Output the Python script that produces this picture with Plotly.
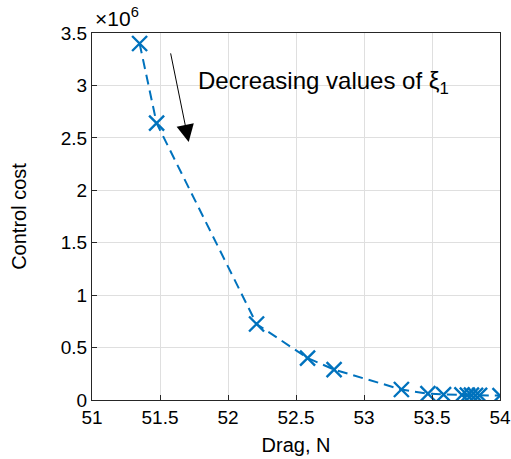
import plotly.graph_objects as go

drag = [51.35, 51.475, 52.21, 52.585, 52.78, 53.275, 53.47, 53.585, 53.72, 53.76, 53.79, 53.82, 53.85, 54.0]
cost = [3.40, 2.64, 0.725, 0.40, 0.29, 0.10, 0.06, 0.052, 0.048, 0.047, 0.046, 0.045, 0.045, 0.042]  # x 1e6
x_ticks = [51, 51.5, 52, 52.5, 53, 53.5, 54]
y_ticks = [0, 0.5, 1, 1.5, 2, 2.5, 3, 3.5]

blue = "#0072BD"
font = "Liberation Sans, Arial, Helvetica, sans-serif"

fig = go.Figure()
fig.add_trace(go.Scatter(
    x=drag, y=cost, mode="lines+markers",
    line=dict(color=blue, width=2, dash="10px,6px"),
    marker=dict(symbol="x-thin", size=15, line=dict(color=blue, width=2.4)),
    showlegend=False,
))

fig.add_annotation(
    x=51.711, y=2.46, ax=51.576, ay=3.32, xref="x", yref="y", axref="x", ayref="y",
    text="", showarrow=True, arrowhead=2, arrowsize=3.5, arrowwidth=1, arrowcolor="black",
)
fig.add_annotation(
    x=51.765, y=3.03, xref="x", yref="y", xanchor="left", yanchor="middle",
    text="Decreasing values of ξ<sub>1</sub>", showarrow=False,
    font=dict(family=font, size=24, color="black"),
)
fig.add_annotation(
    x=0, y=1, xref="paper", yref="paper", xanchor="left", yanchor="bottom", xshift=1, yshift=1,
    text="×10<sup>6</sup>", showarrow=False, font=dict(family=font, size=21, color="black"),
)

axis_common = dict(
    showline=True, linecolor="#262626", linewidth=1, mirror=True,
    ticks="inside", ticklen=5, tickcolor="#262626",
    showgrid=True, gridcolor="#DFDFDF", gridwidth=1, zeroline=False,
    tickfont=dict(family=font, size=19, color="black"), automargin=False,
)

fig.update_layout(
    width=511, height=459,
    margin=dict(l=92, r=11, t=33, b=59),
    plot_bgcolor="white", paper_bgcolor="white",
    font=dict(family=font, size=19, color="black"),
    xaxis=dict(range=[51, 54], tickvals=x_ticks,
               ticktext=[f"{v:g}" for v in x_ticks],
               title=dict(text="Drag, N", font=dict(family=font, size=20), standoff=11),
               **axis_common),
    yaxis=dict(range=[0, 3.5], tickvals=y_ticks,
               ticktext=[f"{v:g}" for v in y_ticks],
               title=dict(text="Control cost", font=dict(family=font, size=20), standoff=28),
               **axis_common),
)

fig.write_html("out.html", config={"responsive": False})
